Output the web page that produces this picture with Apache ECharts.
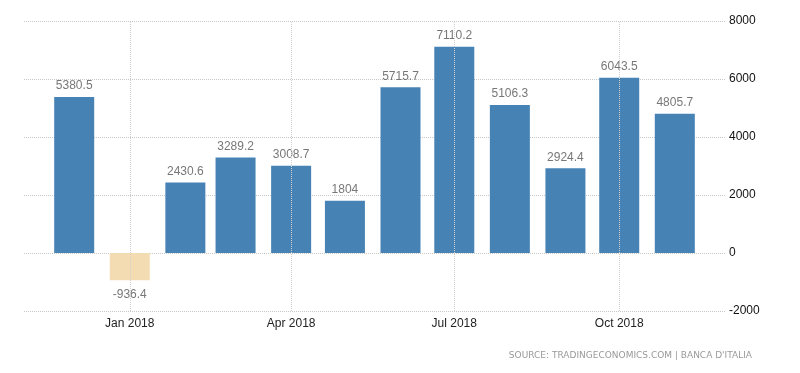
<!DOCTYPE html>
<html><head><meta charset="utf-8">
<script src="https://cdn.jsdelivr.net/npm/echarts@6/dist/echarts.min.js"></script>
<style>html,body{margin:0;padding:0;background:#fff}#c{width:800px;height:373px}</style>
</head><body><div id="c"></div>
<script>
var months = ['2017-12-01','2018-01-01','2018-02-01','2018-03-01','2018-04-01','2018-05-01','2018-06-01','2018-07-01','2018-08-01','2018-09-01','2018-10-01','2018-11-01'];
var values = [5380.5, -936.4, 2430.6, 3289.2, 3008.7, 1804, 5715.7, 7110.2, 5106.3, 2924.4, 6043.5, 4805.7];
var tickDates = ['2018-01-01','2018-04-01','2018-07-01','2018-10-01'];
var tickLabels = ['Jan 2018','Apr 2018','Jul 2018','Oct 2018'];
var yTicks = [-2000, 0, 2000, 4000, 6000, 8000];
var xRange = ['2017-11-03','2018-11-29'];
var sourceText = "SOURCE: TRADINGECONOMICS.COM | BANCA D'ITALIA";

function ts(s) { var p = s.split('-'); return Date.UTC(+p[0], +p[1] - 1, +p[2]); }
var FONT = '"Liberation Sans", Arial, sans-serif';
var data = values.map(function (v, i) {
  var item = { value: [ts(months[i]), v] };
  if (v < 0) {
    item.itemStyle = { color: '#F3DCB2' };
    item.label = { position: 'bottom', distance: 9 };
  }
  return item;
});
var marks = tickDates.map(function (d, i) { return { xAxis: ts(d), name: tickLabels[i] }; });

var chart = echarts.init(document.getElementById('c'), null, { renderer: 'canvas' });
chart.setOption({
  animation: false,
  backgroundColor: '#fff',
  grid: { left: 24, right: 75, top: 21, bottom: 62 },
  xAxis: {
    type: 'value',
    min: ts(xRange[0]),
    max: ts(xRange[1]),
    axisLine: { show: false }, axisTick: { show: false },
    axisLabel: { show: false }, splitLine: { show: false }
  },
  yAxis: {
    type: 'value', position: 'right',
    min: yTicks[0], max: yTicks[yTicks.length - 1], interval: 2000,
    axisLine: { show: false }, axisTick: { show: false },
    axisLabel: { color: '#111', fontSize: 12, fontFamily: FONT, margin: 4,
      formatter: function (v) { return String(v); } },
    splitLine: { lineStyle: { type: 'dotted', color: '#c8c8c8', width: 1 } }
  },
  series: [{
    type: 'bar',
    barWidth: 40,
    data: data,
    itemStyle: { color: '#4682B4' },
    label: { show: true, position: 'top', distance: 5, color: '#777', fontSize: 12, fontFamily: FONT,
      formatter: function (p) { return String(p.value[1]); } },
    markLine: {
      silent: true, symbol: 'none',
      lineStyle: { type: 'dotted', color: '#d0d0d0', width: 1 },
      label: { show: true, position: 'start', formatter: '{b}', color: '#222', fontSize: 12, fontFamily: FONT, distance: 7 },
      data: marks
    }
  }],
  graphic: [{
    type: 'text', right: 48, top: 351,
    style: { text: sourceText, fill: '#999', font: '9px "DejaVu Sans", sans-serif' }
  }]
});
</script></body></html>
